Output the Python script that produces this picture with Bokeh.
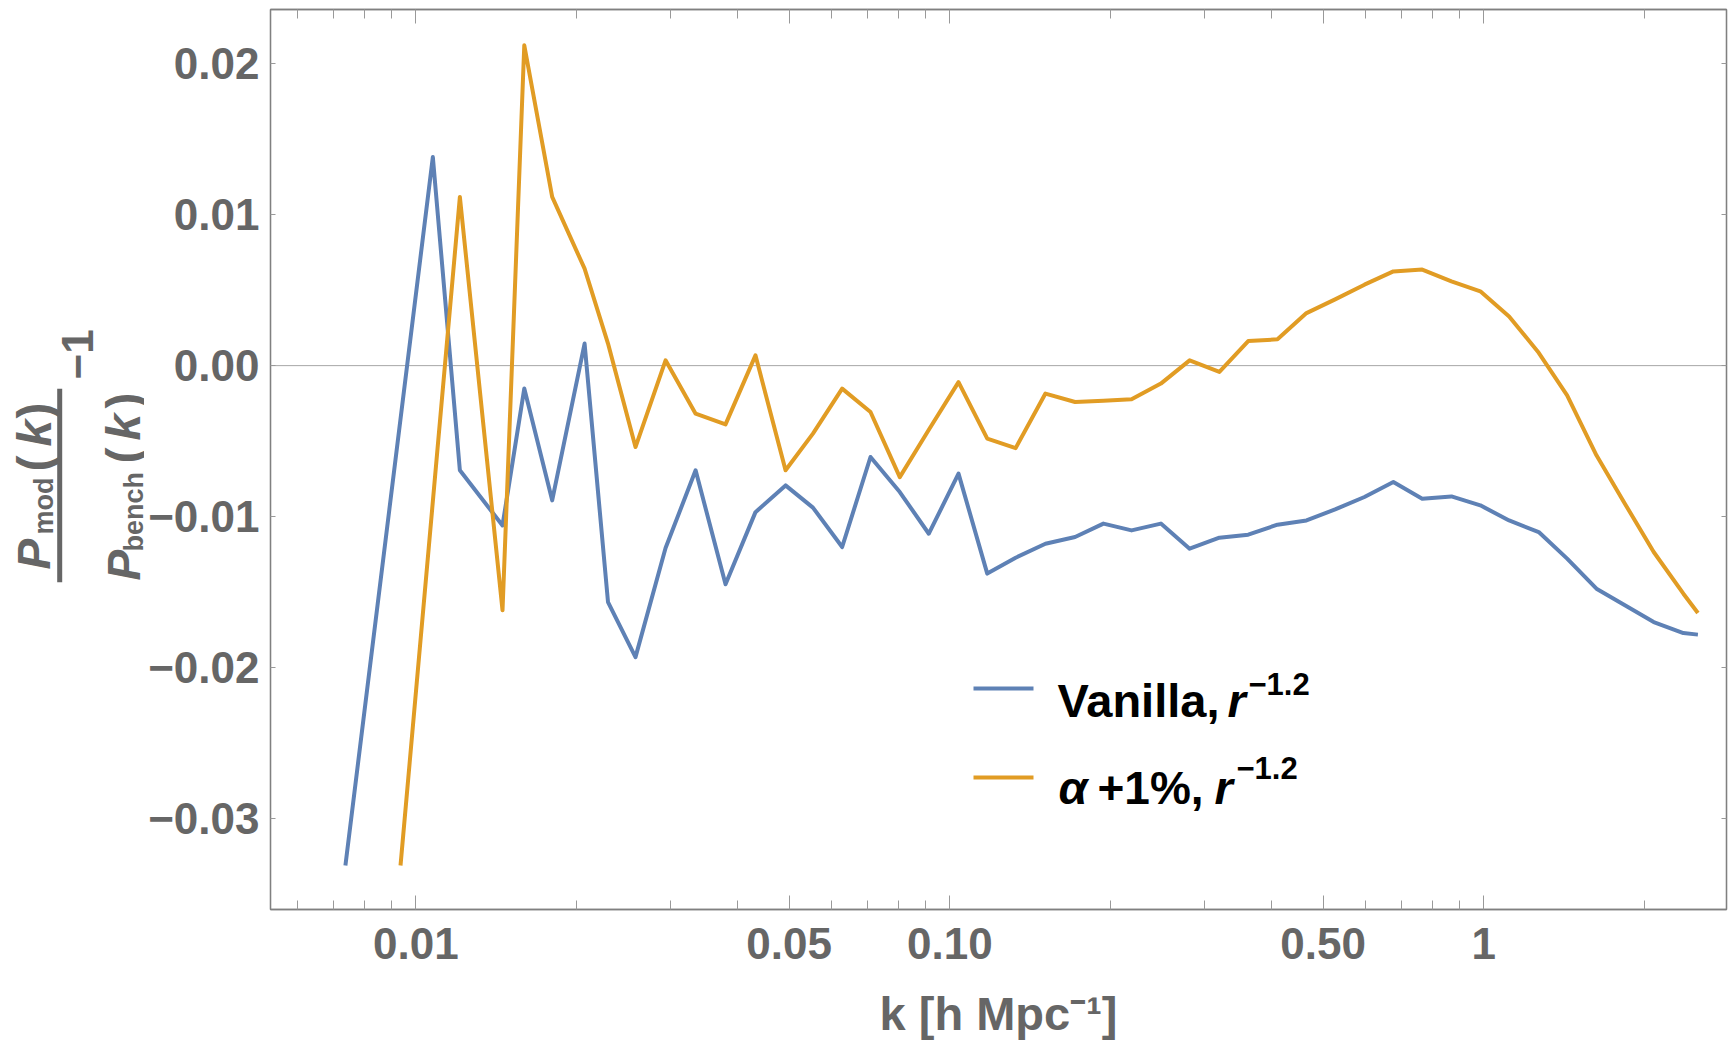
import math
from bokeh.plotting import figure
from bokeh.layouts import row, column
from bokeh.models import (Range1d, LogAxis, LinearAxis, FixedTicker, Span, Label,
                          BoxAnnotation, CustomJSTickFormatter)
from bokeh.embed import file_html
from bokeh.resources import INLINE

# ---------------- data ----------------
k_vanilla = [0.00738, 0.01076, 0.01209, 0.01453, 0.01596, 0.01800, 0.02070, 0.02290,
             0.02578, 0.02935, 0.03341, 0.03801, 0.04325, 0.04924, 0.05541, 0.06285,
             0.07102, 0.08058, 0.09133, 0.1038, 0.1175, 0.1328, 0.1510, 0.1716,
             0.1939, 0.2189, 0.2484, 0.2812, 0.3197, 0.3620, 0.4107, 0.4654,
             0.5266, 0.5976, 0.6769, 0.7666, 0.8696, 0.9849, 1.115, 1.267,
             1.432, 1.625, 1.837, 2.080, 2.364, 2.517]
ratio_vanilla = [-0.0331, 0.01381, -0.00693, -0.01058, -0.00152, -0.00892, 0.00146, -0.01566,
                 -0.01930, -0.01208, -0.00693, -0.01448, -0.00970, -0.00793, -0.00940, -0.01201,
                 -0.00605, -0.00837, -0.01113, -0.00715, -0.01377, -0.01272, -0.01179, -0.01135,
                 -0.01046, -0.01091, -0.01046, -0.01212, -0.01139, -0.01119, -0.01053, -0.01025,
                 -0.00952, -0.00870, -0.00771, -0.00881, -0.00866, -0.00925, -0.01025, -0.01102,
                 -0.01278, -0.01477, -0.01587, -0.01698, -0.01771, -0.01781]

k_alpha = [0.00936, 0.01209, 0.01453, 0.01596, 0.01800, 0.02070, 0.02290,
           0.02578, 0.02935, 0.03341, 0.03801, 0.04325, 0.04924, 0.05541, 0.06285,
           0.07102, 0.08058, 0.09133, 0.1038, 0.1175, 0.1328, 0.1510, 0.1716,
           0.1939, 0.2189, 0.2484, 0.2812, 0.3197, 0.3620, 0.4107, 0.4654,
           0.5266, 0.5976, 0.6769, 0.7666, 0.8696, 0.9849, 1.115, 1.267,
           1.432, 1.625, 1.837, 2.080, 2.364, 2.517]
ratio_alpha = [-0.0331, 0.01117, -0.01620, 0.02121, 0.01117, 0.00642, 0.00146,
               -0.00539, 0.00035, -0.00318, -0.00389, 0.00068, -0.00693, -0.00450, -0.00152,
               -0.00307, -0.00738, -0.00424, -0.00109, -0.00483, -0.00546, -0.00185, -0.00241,
               -0.00232, -0.00223, -0.00119, 0.00035, -0.00042, 0.00163, 0.00174, 0.00348,
               0.00439, 0.00536, 0.00624, 0.00636, 0.00558, 0.00492, 0.00326, 0.00085,
               -0.00197, -0.00594, -0.00914, -0.01234, -0.01510, -0.01638]

x_ticks = [0.01, 0.05, 0.1, 0.5, 1.0]
x_tick_labels = ["0.01", "0.05", "0.10", "0.50", "1"]
x_minor_ticks = [0.006, 0.007, 0.008, 0.009, 0.02, 0.03, 0.04, 0.06, 0.07, 0.08, 0.09,
                 0.2, 0.3, 0.4, 0.6, 0.7, 0.8, 0.9, 2.0]
y_ticks = [-0.03, -0.02, -0.01, 0.0, 0.01, 0.02]
y_tick_labels = ["\u22120.03", "\u22120.02", "\u22120.01", "0.00", "0.01", "0.02"]
x_axis_title = "k [h Mpc\u207b\u00b9]"

BLUE = "#5E81B5"
ORANGE = "#E19C24"
GRAY = "#666666"
FONT = "Liberation Sans"

# overall page geometry (pixels)
LEFT_W = 144          # strip holding the rotated y label
FRAME_LEFT = 270      # page x of the plot frame's left edge
MAIN_W = 1728 - LEFT_W
TOTAL_H = 1044

# ---------------- main figure ----------------
p = figure(width=MAIN_W, height=TOTAL_H, x_axis_type="log",
           x_range=Range1d(0.005343, 2.847), y_range=Range1d(-0.03601, 0.02358),
           output_backend="svg", toolbar_location=None, title=None,
           min_border_left=FRAME_LEFT - LEFT_W, min_border_right=2,
           min_border_top=9, min_border_bottom=135)
p.background_fill_color = "white"
p.border_fill_color = "white"
p.xgrid.visible = False
p.ygrid.visible = False
p.outline_line_color = "#808080"
p.outline_line_width = 1.3

label_fmt_x = CustomJSTickFormatter(args=dict(tvals=x_ticks, tlabels=x_tick_labels), code="""
let best = 0, bd = 1e9;
for (let i = 0; i < tvals.length; i++) {
  const d = Math.abs(Math.log(tick) - Math.log(tvals[i]));
  if (d < bd) { bd = d; best = i; }
}
return tlabels[best];
""")
label_fmt_y = CustomJSTickFormatter(args=dict(tvals=y_ticks, tlabels=y_tick_labels), code="""
let best = 0, bd = 1e9;
for (let i = 0; i < tvals.length; i++) {
  const d = Math.abs(tick - tvals[i]);
  if (d < bd) { bd = d; best = i; }
}
return tlabels[best];
""")
empty_fmt = CustomJSTickFormatter(code="return '';")

def style_axis(ax, tick_in, minor_in):
    ax.axis_line_color = "#808080"
    ax.axis_line_width = 1.3
    ax.major_tick_line_color = "#999999"
    ax.minor_tick_line_color = "#999999"
    ax.major_tick_in = tick_in
    ax.major_tick_out = 0
    ax.minor_tick_in = minor_in
    ax.minor_tick_out = 0
    ax.major_label_text_font = FONT
    ax.major_label_text_font_style = "bold"
    ax.major_label_text_font_size = "44px"
    ax.major_label_text_color = GRAY

xa = p.xaxis[0]
xa.ticker = FixedTicker(ticks=x_ticks, minor_ticks=x_minor_ticks)
xa.formatter = label_fmt_x
style_axis(xa, 14, 9)
xa.major_label_standoff = 18
xa.axis_label = x_axis_title
xa.axis_label_text_font = FONT
xa.axis_label_text_font_style = "bold"
xa.axis_label_text_font_size = "47px"
xa.axis_label_text_color = GRAY
xa.axis_label_standoff = 25

ya = p.yaxis[0]
ya.ticker = FixedTicker(ticks=y_ticks)
ya.formatter = label_fmt_y
style_axis(ya, 5, 0)
ya.major_label_standoff = 11

top = LogAxis(ticker=FixedTicker(ticks=x_ticks, minor_ticks=x_minor_ticks), formatter=empty_fmt)
style_axis(top, 14, 9)
top.major_label_text_font_size = "1px"
top.major_label_standoff = 0
p.add_layout(top, "above")

right = LinearAxis(ticker=FixedTicker(ticks=y_ticks), formatter=empty_fmt)
style_axis(right, 5, 0)
right.major_label_text_font_size = "1px"
right.major_label_standoff = 0
p.add_layout(right, "right")

p.add_layout(Span(location=0, dimension="width", line_color="#a6a6a6", line_width=1, level="underlay"))

p.line(k_vanilla, ratio_vanilla, line_color=BLUE, line_width=4, line_join="round")
p.line(k_alpha, ratio_alpha, line_color=ORANGE, line_width=4, line_join="round")


def lab(fig, text, x, y, size, style="bold", angle=0.0, color=GRAY, units="screen"):
    fig.add_layout(Label(x=x, y=y, x_units=units, y_units=units, text=text,
                         text_font=FONT, text_font_size=f"{size}px", text_font_style=style,
                         text_color=color, angle=angle, text_align="left",
                         text_baseline="alphabetic"))

# legend (screen units relative to the frame: x from left, y from bottom)
for bottom, colr in ((219, BLUE), (130, ORANGE)):
    p.add_layout(BoxAnnotation(left=703, right=763, bottom=bottom, top=bottom + 4,
                               left_units="screen", right_units="screen",
                               bottom_units="screen", top_units="screen",
                               fill_color=colr, fill_alpha=1.0, line_color=None))
lab(p, "Vanilla,", 787, 209, 47, "bold", color="black")
lab(p, "r", 957, 209, 47, "bold italic", color="black")
lab(p, "\u22121.2", 978, 226, 31, "bold", color="black")
lab(p, "\u03b1", 788, 122, 47, "bold italic", color="black")
lab(p, "+1%,", 827, 122, 46, "bold", color="black")
lab(p, "r", 944, 122, 47, "bold italic", color="black")
lab(p, "\u22121.2", 966, 142, 31, "bold", color="black")


# ---------------- left strip: rotated y-axis label ----------------
A = figure(width=LEFT_W, height=TOTAL_H, x_range=Range1d(0, LEFT_W), y_range=Range1d(0, TOTAL_H),
           output_backend="svg", toolbar_location=None, title=None,
           x_axis_location=None, y_axis_location=None,
           min_border_left=0, min_border_right=0, min_border_top=0, min_border_bottom=0)
A.outline_line_color = None
A.background_fill_color = "white"
A.border_fill_color = "white"
A.grid.visible = False

R = math.pi / 2
H = TOTAL_H
lab(A, "P", 33, H - 569, 46, "bold italic", R, units="data")
lab(A, "mod", 43, H - 534, 27, "bold", R, units="data")
lab(A, "(", 34, H - 471, 48, "bold", R, units="data")
lab(A, "k", 34, H - 446, 48, "bold italic", R, units="data")
lab(A, ")", 34, H - 418, 48, "bold", R, units="data")
lab(A, "P", 123, H - 580, 46, "bold italic", R, units="data")
lab(A, "bench", 133, H - 551, 27, "bold", R, units="data")
lab(A, "(", 123, H - 463, 48, "bold", R, units="data")
lab(A, "k", 123, H - 440, 48, "bold italic", R, units="data")
lab(A, ")", 123, H - 408, 48, "bold", R, units="data")
lab(A, "\u22121", 77, H - 379, 44, "bold", R, units="data")
A.add_layout(BoxAnnotation(left=56.7, right=61.7, bottom=H - 581.7, top=H - 388.3,
                           fill_color=GRAY, fill_alpha=1.0, line_color=None))

layout = row(A, column(p, spacing=0), spacing=0)
open("out.html", "w").write(file_html(layout, INLINE))
